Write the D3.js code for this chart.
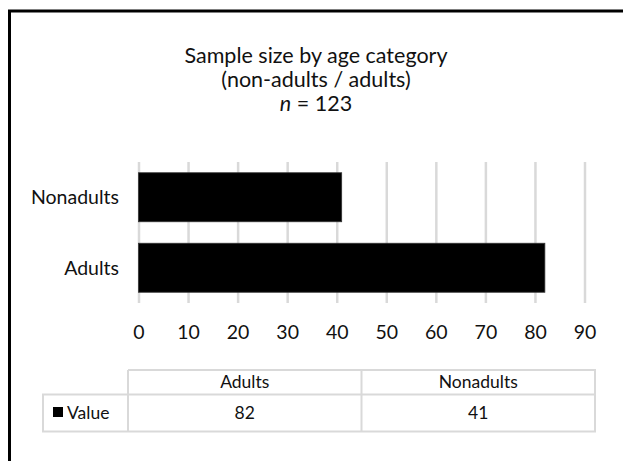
<!DOCTYPE html>
<html>
<head>
<meta charset="utf-8">
<script src="https://cdn.jsdelivr.net/npm/d3@7"></script>
<style>
  html, body { margin: 0; padding: 0; background: #fff; }
  svg { display: block; font-family: Lato, "Open Sans", sans-serif; }
</style>
</head>
<body>
<svg id="chart" width="623" height="461"></svg>
<script>
// Sample counts per age group
const categories = ["Nonadults", "Adults"];
const values = [41, 82];
const tableColumns = ["Adults", "Nonadults"];
const tableValues = [82, 41];
const seriesName = "Value";
const xTicks = [0, 10, 20, 30, 40, 50, 60, 70, 80, 90];
const titleLines = ["Sample size by age category", "(non-adults / adults)"];
const sampleTotal = 123;

const svg = d3.select("#chart");
const textColor = "#111";
const gridColor = "#d9d9d9";
const axisFont = 19.5;
const tableFont = 17.5;

// Outer frame (top and left edges)
svg.append("path")
  .attr("d", "M9.5,461 V11 H623")
  .attr("fill", "none")
  .attr("stroke", "#000")
  .attr("stroke-width", 3);

// Title
const title = svg.append("text")
  .attr("text-anchor", "middle")
  .attr("fill", textColor)
  .attr("font-size", 21.5);
titleLines.forEach((t, i) => {
  title.append("tspan").attr("x", 316).attr("y", 63 + i * 24).text(t);
});
const nLine = title.append("tspan").attr("x", 316).attr("y", 111);
nLine.append("tspan").attr("font-style", "italic").text("n");
nLine.append("tspan").text(" = " + sampleTotal);

// Scales
const x = d3.scaleLinear().domain([0, 90]).range([138.5, 584.5]);
const y = d3.scaleBand().domain(categories).range([162, 303])
  .paddingInner(0.305).paddingOuter(0.1525);

// Vertical gridlines
const grid = svg.append("g")
  .attr("transform", "translate(0,303)")
  .call(d3.axisBottom(x).tickValues(xTicks).tickSize(-141).tickFormat(""));
grid.select(".domain").remove();
grid.selectAll(".tick line").attr("stroke", gridColor).attr("stroke-width", 2.5);

// Bars
svg.append("g").selectAll("rect")
  .data(categories.map((c, i) => ({ c, v: values[i] })))
  .join("rect")
  .attr("x", x(0))
  .attr("y", d => y(d.c))
  .attr("width", d => x(d.v) - x(0))
  .attr("height", y.bandwidth())
  .attr("fill", "#000")
  .attr("stroke", "#333")
  .attr("stroke-width", 0.8);

// X tick labels
const xAxis = svg.append("g")
  .attr("transform", "translate(0,303)")
  .call(d3.axisBottom(x).tickValues(xTicks).tickSize(0).tickPadding(0));
xAxis.select(".domain").remove();
xAxis.selectAll("text")
  .attr("fill", textColor)
  .attr("font-size", axisFont)
  .attr("font-family", "Lato, 'Open Sans', sans-serif")
  .attr("dy", null)
  .attr("y", 35.5);

// Category labels
const yAxis = svg.append("g")
  .attr("transform", "translate(119,0)")
  .call(d3.axisLeft(y).tickSize(0).tickPadding(0));
yAxis.select(".domain").remove();
yAxis.selectAll("text")
  .attr("fill", textColor)
  .attr("font-size", axisFont)
  .attr("font-family", "Lato, 'Open Sans', sans-serif")
  .attr("dy", "0.35em");

// Data table beneath the chart
const tblLeft = 43, tblHead = 128, tblRight = 595;
const rowTop = 370, rowMid = 394.5, rowBot = 431.5;
const col = d3.scaleBand().domain(tableColumns).range([tblHead, tblRight]);
const tbl = svg.append("g")
  .attr("stroke", gridColor)
  .attr("stroke-width", 2)
  .attr("fill", "none");
tbl.append("path").attr("d",
  `M${tblHead},${rowTop} H${tblRight} V${rowBot} H${tblLeft} V${rowMid} H${tblRight}` +
  ` M${tblHead},${rowTop} V${rowBot}`);
tbl.selectAll("line.div")
  .data(tableColumns.slice(1))
  .join("line")
  .attr("x1", d => col(d)).attr("x2", d => col(d))
  .attr("y1", rowTop).attr("y2", rowBot);

svg.append("g").selectAll("text")
  .data(tableColumns)
  .join("text")
  .attr("x", d => col(d) + col.bandwidth() / 2)
  .attr("y", (rowTop + rowMid) / 2)
  .attr("dy", "0.35em")
  .attr("text-anchor", "middle")
  .attr("fill", textColor)
  .attr("font-size", tableFont)
  .text(d => d);

svg.append("g").selectAll("text")
  .data(tableColumns.map((c, i) => ({ c, v: tableValues[i] })))
  .join("text")
  .attr("x", d => col(d.c) + col.bandwidth() / 2)
  .attr("y", (rowMid + rowBot) / 2)
  .attr("dy", "0.35em")
  .attr("text-anchor", "middle")
  .attr("fill", textColor)
  .attr("font-size", tableFont)
  .text(d => d.v);

// Legend key in the row header
svg.append("rect")
  .attr("x", 53).attr("y", 407)
  .attr("width", 10).attr("height", 10)
  .attr("fill", "#000");
svg.append("text")
  .attr("x", 67)
  .attr("y", (rowMid + rowBot) / 2)
  .attr("dy", "0.35em")
  .attr("fill", textColor)
  .attr("font-size", tableFont)
  .text(seriesName);
</script>
</body>
</html>
